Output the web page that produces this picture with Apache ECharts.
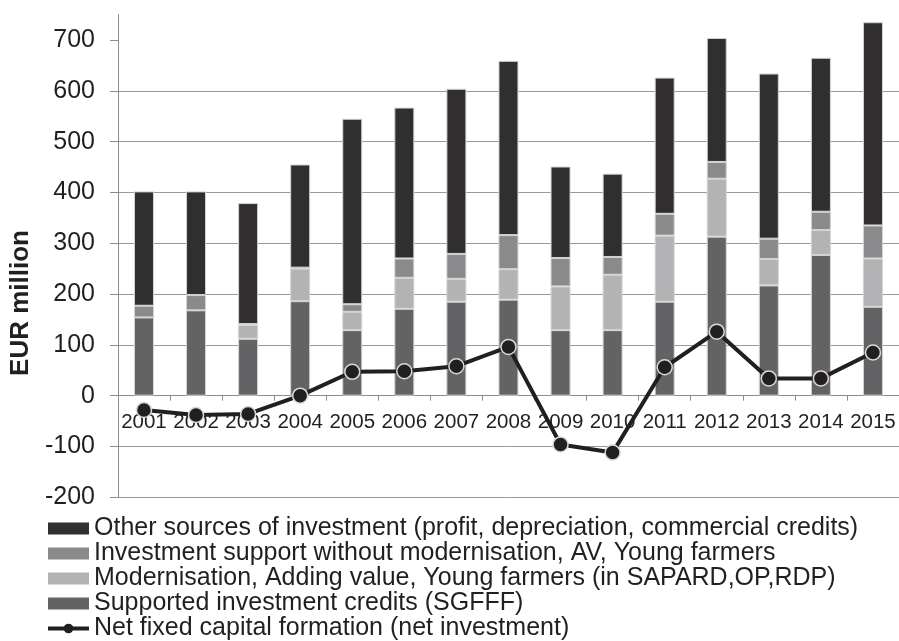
<!DOCTYPE html>
<html>
<head>
<meta charset="utf-8">
<script src="https://cdn.jsdelivr.net/npm/echarts@6/dist/echarts.min.js"></script>
<style>
  html, body { margin: 0; padding: 0; background: #fff; }
  #chart { width: 899px; height: 641px; }
</style>
</head>
<body>
<div id="chart"></div>
<script>
// years on the x axis
var years = ["2001", "2002", "2003", "2004", "2005", "2006", "2007", "2008",
             "2009", "2010", "2011", "2012", "2013", "2014", "2015"];

// stacked parts, EUR million (bottom to top)
var supportedCredits = [154, 168, 112, 186, 129, 171, 185, 189, 129, 129, 185, 313, 217, 277, 175];
var modernisation    = [0, 0, 27, 64, 36, 61, 45, 60, 86, 109, 130, 114, 52, 49, 95];
var investSupport    = [23, 30, 2, 2, 15, 38, 49, 67, 56, 35, 43, 33, 40, 36, 65];
var otherSources     = [225, 204, 238, 203, 365, 297, 325, 343, 180, 164, 268, 244, 325, 303, 400];

// net fixed capital formation
var netInvestment = [-28, -38, -36, 0, 47, 48, 58, 96, -96, -112, 56, 126, 34, 34, 85];

var yTicks = [-200, -100, 0, 100, 200, 300, 400, 500, 600, 700];

var yMin = -200, yMax = 750;
var gridTop = 14.6, gridBottom = 143.7;

var txt = "#231f20";
var font = "Liberation Sans, Arial, sans-serif";

var myChart = echarts.init(document.getElementById("chart"));

// put the category axis on the zero line
var plotH = 641 - gridTop - gridBottom;
var zeroOffset = -plotH * (0 - yMin) / (yMax - yMin);

function barSeries(name, data, color) {
  return {
    name: name,
    type: "bar",
    stack: "total",
    barWidth: 20,
    data: data,
    itemStyle: { color: color, borderColor: "#d4d4d4", borderWidth: 1 }
  };
}

myChart.setOption({
  animation: false,
  textStyle: { fontFamily: font, color: txt },
  grid: { left: 112, right: 0, top: gridTop, bottom: gridBottom },
  legend: {
    orient: "vertical",
    left: 46,
    top: 516,
    height: 125,
    padding: 0,
    itemWidth: 41,
    itemHeight: 12,
    itemGap: 0,
    itemStyle: { borderWidth: 0 },
    textStyle: { fontSize: 25, lineHeight: 24.6, color: txt, fontFamily: font },
    data: [
      { name: "Other sources of investment (profit, depreciation, commercial credits)", icon: "rect" },
      { name: "Investment support without modernisation, AV, Young farmers", icon: "rect" },
      { name: "Modernisation, Adding value, Young farmers (in SAPARD,OP,RDP)", icon: "rect" },
      { name: "Supported investment credits (SGFFF)", icon: "rect" },
      { name: "Net fixed capital formation (net investment)", lineStyle: { width: 4 } }
    ]
  },
  xAxis: {
    type: "category",
    data: years,
    position: "bottom",
    offset: zeroOffset,
    axisLine: { onZero: false, lineStyle: { color: "#8c8c8c", width: 1 } },
    axisTick: { show: true, length: 5, lineStyle: { color: "#8c8c8c" } },
    axisLabel: { interval: 0, fontSize: 20.5, color: txt, margin: 16, fontFamily: font }
  },
  yAxis: {
    type: "value",
    min: yMin,
    max: yMax,
    interval: 100,
    name: "EUR million",
    nameLocation: "middle",
    nameRotate: 90,
    nameGap: 76,
    nameTextStyle: { fontSize: 26, fontWeight: "bold", color: txt, fontFamily: font, padding: [0, 94, 0, 0] },
    axisLine: { show: true, lineStyle: { color: "#8c8c8c", width: 1 } },
    axisTick: { show: true, length: 8, lineStyle: { color: "#8c8c8c" }, customValues: yTicks },
    axisLabel: { fontSize: 25, color: txt, margin: 23, fontFamily: font, customValues: yTicks },
    splitLine: { show: true, showMaxLine: false, lineStyle: { color: "#9a9a9a", width: 1 } }
  },
  series: [
    barSeries("Supported investment credits (SGFFF)", supportedCredits, "#636365"),
    barSeries("Modernisation, Adding value, Young farmers (in SAPARD,OP,RDP)", modernisation, "#b3b3b5"),
    barSeries("Investment support without modernisation, AV, Young farmers", investSupport, "#8a8a8c"),
    barSeries("Other sources of investment (profit, depreciation, commercial credits)", otherSources, "#302e2f"),
    {
      name: "Net fixed capital formation (net investment)",
      type: "line",
      data: netInvestment,
      symbol: "circle",
      symbolSize: 15,
      z: 5,
      lineStyle: { color: "#231f20", width: 4 },
      itemStyle: { color: "#231f20", borderColor: "#d9d9d9", borderWidth: 1.5 }
    }
  ]
});
</script>
</body>
</html>
